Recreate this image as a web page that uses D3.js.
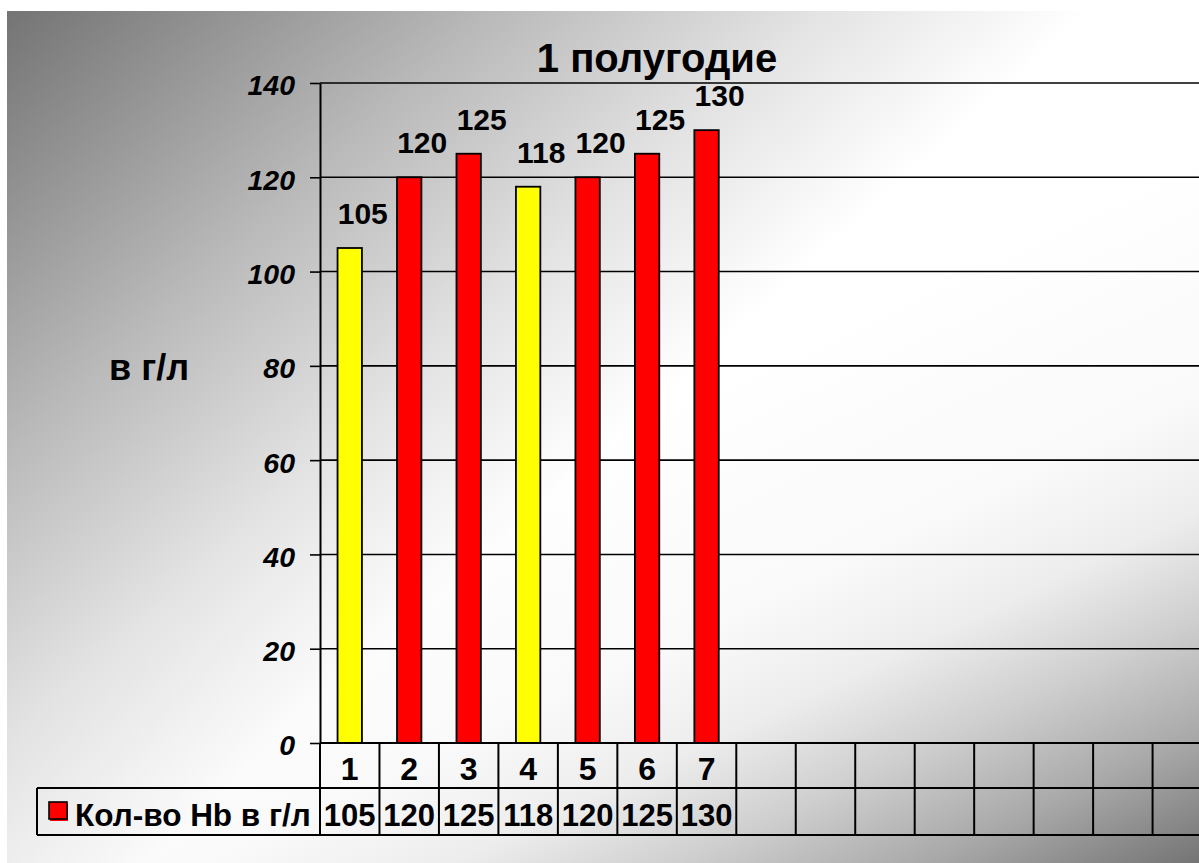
<!DOCTYPE html>
<html>
<head>
<meta charset="utf-8">
<script src="https://cdn.jsdelivr.net/npm/d3@7"></script>
<style>
	body { margin: 0; background: #fff; }
	text { font-family: "Liberation Sans", Arial, sans-serif; font-weight: bold; fill: #000; }
</style>
</head>
<body>
<div id="chart-area"></div>
<script>
// data
const chartTitle = "1 полугодие"
const yLabelText = "в г/л"
const seriesName = "Кол-во Hb в г/л"
const categoryLabels = ["1", "2", "3", "4", "5", "6", "7", "", "", "", "", "", "", "", ""]
const hbValues = [105, 120, 125, 118, 120, 125, 130]
const yTicks = [0, 20, 40, 60, 80, 100, 120, 140]
const LOW_LIMIT = 120 // bars under this are drawn yellow

const WIDTH = 1199
const HEIGHT = 863
const PLOT = { LEFT: 320, TOP: 83, BOTTOM: 743, STEP: 59.47 }
const TABLE = { LEFT: 37, MID: 788, BOTTOM: 835 }

const svg = d3.select("#chart-area").append("svg")
	.attr("width", WIDTH)
	.attr("height", HEIGHT)
	.style("display", "block")

// background: white with grey shading from top-left and bottom-right corners
const defs = svg.append("defs")
const shade = (id, from, to, stops) => {
	const lg = defs.append("linearGradient")
		.attr("id", id)
		.attr("gradientUnits", "userSpaceOnUse")
		.attr("x1", from[0]).attr("y1", from[1])
		.attr("x2", to[0]).attr("y2", to[1])
	lg.selectAll("stop").data(stops).enter().append("stop")
		.attr("offset", d => d[0])
		.attr("stop-color", "#747474")
		.attr("stop-opacity", d => d[1])
}
shade("shadeTL", [7, 11], [493, 550], [[0, 1], [0.45, 0.5], [0.75, 0.2], [1, 0]])
shade("shadeBR", [1199, 863], [922, 275], [[0, 1], [0.18, 0.62], [0.34, 0.35], [0.49, 0.13], [0.65, 0.04], [1, 0]])

const bg = svg.append("g")
bg.append("rect")
	.attr("x", 7).attr("y", 11)
	.attr("width", WIDTH - 7).attr("height", HEIGHT - 11)
	.attr("fill", "#fff")
bg.selectAll("rect.shade")
	.data(["shadeTL", "shadeBR"])
	.enter().append("rect")
	.attr("x", 7).attr("y", 11)
	.attr("width", WIDTH - 7).attr("height", HEIGHT - 11)
	.attr("fill", d => `url(#${d})`)

// scales
const idx = d3.range(categoryLabels.length)
const xRange = [PLOT.LEFT, PLOT.LEFT + categoryLabels.length * PLOT.STEP]
const xCell = d3.scaleBand().domain(idx).range(xRange)
const xBar = d3.scaleBand().domain(idx).range(xRange)
	.paddingInner(0.59)
	.paddingOuter(0.295)
const y = d3.scaleLinear().domain([0, 140]).range([PLOT.BOTTOM, PLOT.TOP])

// gridlines
svg.append("g").selectAll("line")
	.data(yTicks.filter(d => d > 0))
	.enter().append("line")
	.attr("x1", PLOT.LEFT)
	.attr("x2", WIDTH)
	.attr("y1", d => y(d))
	.attr("y2", d => y(d))
	.attr("stroke", "#000")
	.attr("stroke-width", 1.6)

// y axis
const yAxis = svg.append("g")
	.attr("transform", `translate(${PLOT.LEFT}, 0)`)
	.call(d3.axisLeft(y).tickValues(yTicks).tickSize(10).tickSizeOuter(0).tickPadding(15))
yAxis.select(".domain").attr("stroke-width", 2)
yAxis.selectAll(".tick line").attr("stroke-width", 1.6)
yAxis.selectAll(".tick text")
	.attr("font-size", "28.5px")
	.attr("font-style", "italic")
	.attr("font-family", "'Liberation Sans', Arial, sans-serif")
	.attr("font-weight", "bold")
	.attr("dy", "0.42em")

// y label
svg.append("text")
	.attr("x", 149)
	.attr("y", 380)
	.attr("font-size", "36px")
	.attr("text-anchor", "middle")
	.text(yLabelText)

// title
svg.append("text")
	.attr("x", 657)
	.attr("y", 72)
	.attr("font-size", "40px")
	.attr("text-anchor", "middle")
	.text(chartTitle)

// bars
svg.append("g").selectAll("rect")
	.data(hbValues)
	.enter().append("rect")
	.attr("x", (d, i) => xBar(i))
	.attr("width", xBar.bandwidth())
	.attr("y", d => y(d))
	.attr("height", d => y(0) - y(d))
	.attr("fill", d => d < LOW_LIMIT ? "#ffff00" : "#ff0000")
	.attr("stroke", "#000")
	.attr("stroke-width", 1.8)

// value labels
svg.append("g").selectAll("text")
	.data(hbValues)
	.enter().append("text")
	.attr("x", (d, i) => xBar(i) + xBar.bandwidth() / 2 + 13)
	.attr("y", d => y(d) - 24)
	.attr("font-size", "30px")
	.attr("text-anchor", "middle")
	.text(d => d)

// data table
const table = svg.append("g")
	.attr("stroke", "#000")
	.attr("stroke-width", 2)

table.append("line")
	.attr("x1", PLOT.LEFT).attr("x2", WIDTH)
	.attr("y1", y(0)).attr("y2", y(0))
table.selectAll("line.h")
	.data([TABLE.MID, TABLE.BOTTOM])
	.enter().append("line")
	.attr("x1", TABLE.LEFT).attr("x2", WIDTH)
	.attr("y1", d => d).attr("y2", d => d)
table.append("line")
	.attr("x1", TABLE.LEFT).attr("x2", TABLE.LEFT)
	.attr("y1", TABLE.MID).attr("y2", TABLE.BOTTOM)
table.selectAll("line.v")
	.data(idx.concat([idx.length]))
	.enter().append("line")
	.attr("x1", d => xRange[0] + d * xCell.step())
	.attr("x2", d => xRange[0] + d * xCell.step())
	.attr("y1", y(0))
	.attr("y2", TABLE.BOTTOM)

svg.append("g").selectAll("text")
	.data(categoryLabels)
	.enter().append("text")
	.attr("x", (d, i) => xCell(i) + xCell.bandwidth() / 2)
	.attr("y", 780)
	.attr("font-size", "32px")
	.attr("text-anchor", "middle")
	.text(d => d)

svg.append("g").selectAll("text")
	.data(hbValues)
	.enter().append("text")
	.attr("x", (d, i) => xCell(i) + xCell.bandwidth() / 2)
	.attr("y", 826)
	.attr("font-size", "31px")
	.attr("text-anchor", "middle")
	.text(d => d)

// legend key
svg.append("rect")
	.attr("x", 50)
	.attr("y", 804)
	.attr("width", 18)
	.attr("height", 17)
	.attr("fill", "#ff0000")
svg.append("rect")
	.attr("x", 49)
	.attr("y", 802)
	.attr("width", 18)
	.attr("height", 17)
	.attr("fill", "#ff0000")
	.attr("stroke", "#000")
	.attr("stroke-width", 1.6)

svg.append("text")
	.attr("x", 75)
	.attr("y", 826)
	.attr("font-size", "31.5px")
	.text(seriesName)
</script>
</body>
</html>
